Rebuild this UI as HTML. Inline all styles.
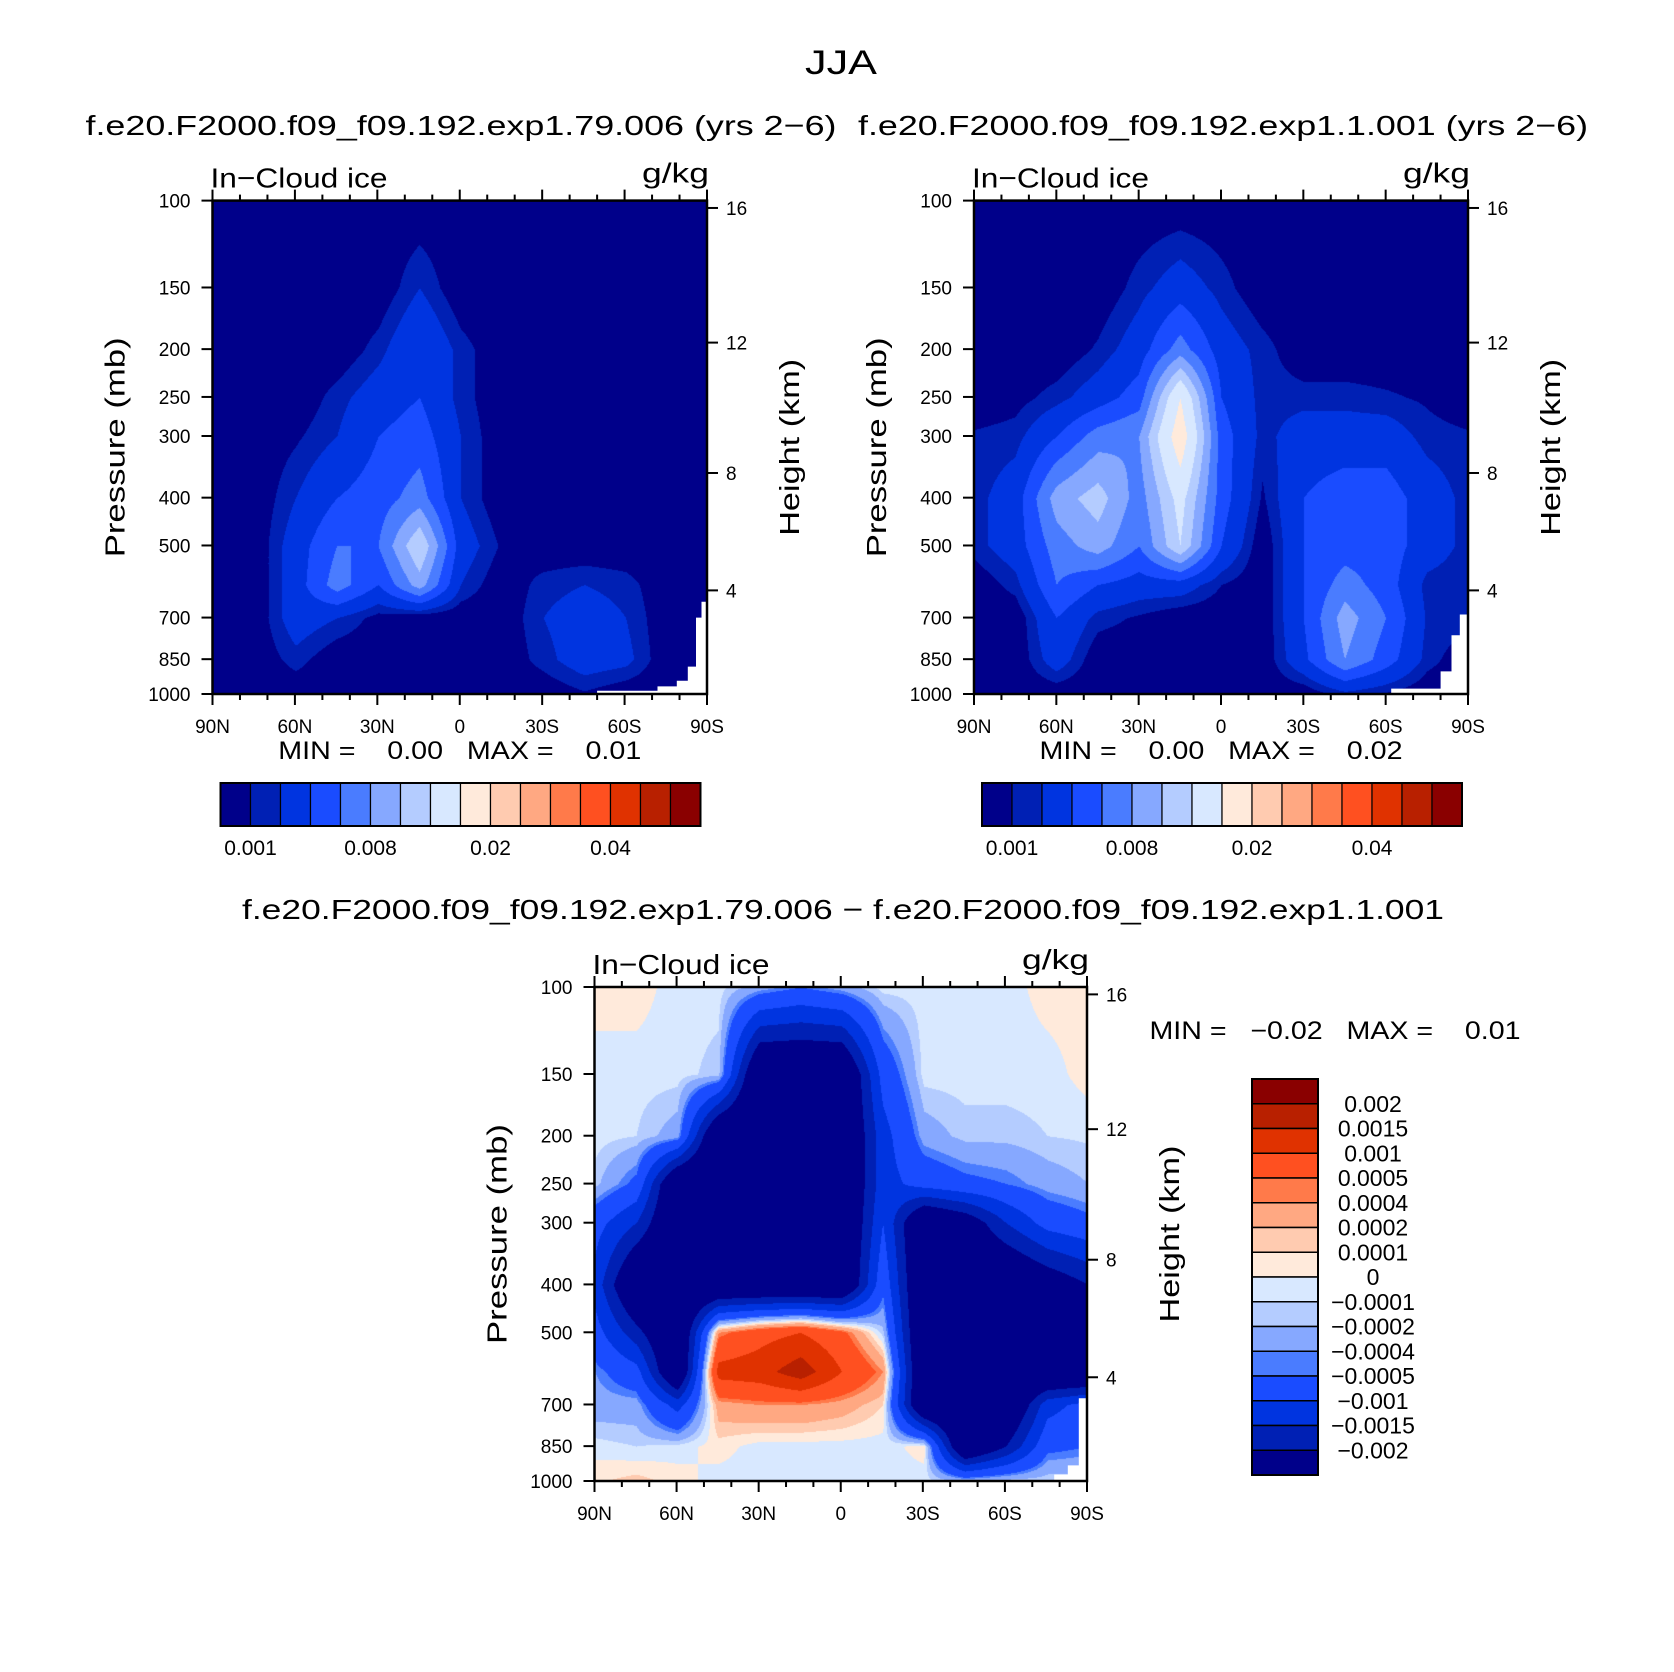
<!DOCTYPE html>
<html><head><meta charset="utf-8">
<style>
html,body{margin:0;padding:0;background:#fff;}
#wrap{position:relative;width:1674px;height:1672px;overflow:hidden;background:#fff;font-family:"Liberation Sans",sans-serif;}
canvas{position:absolute;}
svg{position:absolute;left:0;top:0;}
text{font-family:"Liberation Sans",sans-serif;fill:#000;white-space:pre;}
</style></head>
<body>
<div id="wrap">
<canvas id="c1"></canvas>
<canvas id="c2"></canvas>
<canvas id="c3"></canvas>
<svg id="s" width="1674" height="1672"></svg>
</div>
<script>
// ---------- data ----------
const lats = [90,75,60,45,30,15,0,-15,-30,-45,-60,-75,-90];
const levs = [100,150,200,250,300,400,500,600,700,850,1000];
const colors = ["#00008a","#0020b4","#0034e0","#1a4cff","#4a7cff","#86a8ff","#b4ccff","#d8e8ff","#ffeadb","#ffcbb0","#ffa882","#ff7a4a","#ff5020","#e03200","#b82000","#8a0000"];
const cnLevels = [0.001,0.002,0.004,0.006,0.008,0.01,0.012,0.015,0.02,0.025,0.03,0.035,0.04,0.045,0.05];
const diffLevels = [-0.002,-0.0015,-0.001,-0.0005,-0.0004,-0.0002,-0.0001,0,0.0001,0.0002,0.0004,0.0005,0.001,0.0015,0.002];
const cbLabels1 = ["0.001","0.008","0.02","0.04"];
const cbLabelIdx1 = [1,5,9,13];
const diffLabels = ["0.002","0.0015","0.001","0.0005","0.0004","0.0002","0.0001","0","\u22120.0001","\u22120.0002","\u22120.0004","\u22120.0005","\u22120.001","\u22120.0015","\u22120.002"];
const latLabels = ["90N","60N","30N","0","30S","60S","90S"];
const latTicks = [90,60,30,0,-30,-60,-90];
const pLabels = [100,150,200,250,300,400,500,700,850,1000];
const zLabels = [16,12,8,4];
const zPress = [103.5,194,356.5,616.6];
const field1 = [
[0,0,0,0,0,0,0,0,0,0,0,0,0],
[0,0,0,0,0,0.002,0,0,0,0,0,0,0],
[0,0,0,0,0.0015,0.004,0.0015,0,0,0,0,0,0],
[0,0,0,0.0015,0.003,0.004,0.0015,0,0,0,0,0,0],
[0,0,0.0008,0.002,0.004,0.005,0.002,0,0,0,0,0,0],
[0,0,0.002,0.004,0.005,0.007,0.002,0,0,0,0,0,0],
[0,0,0.003,0.006,0.006,0.012,0.003,0.0008,0,0,0,0,0],
[0,0,0.003,0.007,0.004,0.009,0.002,0,0.0015,0.002,0.0015,0,0],
[0,0,0.003,0.002,0.0005,0,0,0,0.002,0.003,0.002,0,0],
[0,0,0.0015,0,0,0,0,0,0.0015,0.003,0.0025,0,0],
[0,0,0,0,0,0,0,0,0,0.0008,0,0,0]];
const field2 = [
[0,0,0,0,0,0,0,0,0,0,0,0,0],
[0,0,0,0,0.0015,0.003,0.0015,0,0,0,0,0,0],
[0,0,0,0.0012,0.003,0.007,0.003,0.0015,0,0,0,0,0],
[0,0.0005,0.0015,0.003,0.005,0.015,0.004,0.0015,0.0015,0.0015,0.0012,0.0008,0],
[0.0012,0.0015,0.004,0.007,0.008,0.017,0.005,0.0015,0.003,0.003,0.003,0.0015,0.0012],
[0.0015,0.003,0.009,0.011,0.007,0.013,0.005,0.0008,0.004,0.005,0.005,0.003,0.0015],
[0.0015,0.003,0.007,0.009,0.006,0.012,0.004,0,0.004,0.005,0.005,0.003,0.0015],
[0,0.0015,0.006,0.004,0.003,0.003,0.001,0,0.004,0.007,0.005,0.0015,0.0012],
[0,0,0.004,0.0015,0.0008,0,0,0,0.004,0.009,0.006,0.0018,0.0015],
[0,0,0.003,0,0,0,0,0,0.0035,0.008,0.005,0.0015,0],
[0,0,0,0,0,0,0,0,0,0.0015,0.0008,0,0]];
const field3 = [
[0.00005,0.00005,-0.00005,-0.00005,-0.0003,-0.0005,-0.0003,-0.00005,-0.00005,-0.00005,-0.00005,0.00005,0.00005],
[-0.00005,-0.00005,-0.00005,-0.00015,-0.003,-0.003,-0.003,-0.0008,-0.00005,-0.00005,-0.00005,-0.00005,0.00005],
[-0.00005,-0.0001,-0.0003,-0.003,-0.003,-0.003,-0.003,-0.0012,-0.0003,-0.00015,-0.00015,-0.0001,-0.00008],
[-0.00015,-0.0006,-0.003,-0.003,-0.003,-0.003,-0.003,-0.0012,-0.0008,-0.0006,-0.0005,-0.0003,-0.0002],
[-0.0008,-0.0015,-0.003,-0.003,-0.003,-0.003,-0.003,-0.001,-0.003,-0.0025,-0.0015,-0.0008,-0.0006],
[-0.0012,-0.003,-0.003,-0.003,-0.003,-0.003,-0.003,-0.0006,-0.003,-0.003,-0.003,-0.0025,-0.002],
[-0.0008,-0.0018,-0.003,0.0004,0.0008,0.001,0.0006,-0.00015,-0.003,-0.003,-0.003,-0.003,-0.003],
[-0.0004,-0.0008,-0.003,0.0012,0.0013,0.0018,0.001,0.0004,-0.003,-0.003,-0.003,-0.003,-0.003],
[-0.0003,-0.0003,-0.0012,0.0003,0.0004,0.0004,0.0003,0.0001,-0.003,-0.003,-0.003,-0.0012,-0.0008],
[-0.00005,-0.0001,-0.00005,0.00005,-0.00005,-0.00005,-0.00005,-0.00005,0.00005,-0.003,-0.002,-0.0006,-0.0005],
[0.00008,0.00015,0.00005,-0.00005,-0.00005,-0.00005,-0.00005,-0.00005,-0.00005,-0.0002,-0.0001,-0.0001,-0.0001]];
const mask1Lat = [-50,-50,-72,-72,-79,-79,-83,-83,-86,-86,-88,-88,-90,-90];
const mask1P = [1000,985,985,965,965,940,940,880,880,700,700,650,650,1000];
const mask2Lat = [-62,-62,-80,-80,-84,-84,-87,-87,-90,-90];
const mask2P = [1000,975,975,900,900,760,760,690,690,1000];
const mask3Lat = [-78,-78,-83,-83,-87,-87,-90,-90];
const mask3P = [1000,970,970,930,930,680,680,1000];

// ---------- layout ----------
const panels = [
 {id:"c1",L:212.5,R:707,T:200.6,B:694,field:field1,lv:cnLevels,mlat:mask1Lat,mp:mask1P,name:"panel1"},
 {id:"c2",L:974,R:1468,T:200.6,B:694,field:field2,lv:cnLevels,mlat:mask2Lat,mp:mask2P,name:"panel2"},
 {id:"c3",L:594.5,R:1087,T:987,B:1481,field:field3,lv:diffLevels,mlat:mask3Lat,mp:mask3P,name:"diff-panel"}];
function xOf(P,lat){return P.L+(90-lat)/180*(P.R-P.L);}
function yOf(P,p){return P.B-Math.log10(1000/p)*(P.B-P.T);}
function hex(c){return [parseInt(c.substr(1,2),16),parseInt(c.substr(3,2),16),parseInt(c.substr(5,2),16)];}
const rgb = colors.map(hex);
function sample(F,lat,lp){
  let fi=(90-lat)/15; let i0=Math.min(11,Math.floor(fi)); let tx=fi-i0;
  let j0=levs.length-2; for(let j=0;j<levs.length-1;j++){ if(lp<=Math.log(levs[j+1])){j0=j;break;} }
  let a=Math.log(levs[j0]),b=Math.log(levs[j0+1]); let ty=Math.max(0,Math.min(1,(lp-a)/(b-a)));
  return (F[j0][i0]*(1-tx)+F[j0][i0+1]*tx)*(1-ty)+(F[j0+1][i0]*(1-tx)+F[j0+1][i0+1]*tx)*ty;
}
panels.forEach(P=>{
  const cv=document.getElementById(P.id);
  const W=Math.round(P.R-P.L),H=Math.round(P.B-P.T);
  cv.width=W;cv.height=H;cv.style.left=P.L+"px";cv.style.top=P.T+"px";
  const ctx=cv.getContext("2d");const im=ctx.createImageData(W,H);
  for(let y=0;y<H;y++){
    const lp=Math.log(1000/Math.pow(10,(H-y)/H));
    for(let x=0;x<W;x++){
      const lat=90-x/W*180; const v=sample(P.field,lat,lp);
      let k=0; while(k<P.lv.length&&v>=P.lv[k])k++;
      const c=rgb[k];const o=(y*W+x)*4;
      im.data[o]=c[0];im.data[o+1]=c[1];im.data[o+2]=c[2];im.data[o+3]=255;
    }}
  ctx.putImageData(im,0,0);
});

// ---------- svg ----------
const NS="http://www.w3.org/2000/svg";const svg=document.getElementById("s");
function el(tag,attrs,txt){const e=document.createElementNS(NS,tag);for(const k in attrs)e.setAttribute(k,attrs[k]);if(txt!==undefined)e.textContent=txt;svg.appendChild(e);return e;}
function T(x,y,s,size,anchor,name,rot,len){const a={x:x,y:y,"font-size":size,"text-anchor":anchor||"middle"};if(rot)a.transform="rotate(-90 "+x+" "+y+")";if(len){a.textLength=len;a.lengthAdjust="spacingAndGlyphs";}const e=el("text",a,s);return e;}

T(841,74,"JJA",34,"middle","main-title",false,72);
T(461,135,"f.e20.F2000.f09_f09.192.exp1.79.006 (yrs 2\u22126)",28,"middle","panel1-title",false,751);
T(1223,135,"f.e20.F2000.f09_f09.192.exp1.1.001 (yrs 2\u22126)",28,"middle","panel2-title",false,730);
T(843,919,"f.e20.F2000.f09_f09.192.exp1.79.006 \u2212 f.e20.F2000.f09_f09.192.exp1.1.001",28,"middle","diff-title",false,1202);

panels.forEach((P,pi)=>{
  let pts=P.mlat.map((la,i)=>xOf(P,la).toFixed(1)+","+yOf(P,P.mp[i]).toFixed(1)).join(" ");
  const m=el("polygon",{points:pts,fill:"#fff"});
  
  
  const fr=el("rect",{x:P.L,y:P.T,width:P.R-P.L,height:P.B-P.T,fill:"none",stroke:"#000","stroke-width":2.5});
  
  
  for(let lat=90;lat>=-90;lat-=10){
    const x=xOf(P,lat);const major=lat%30===0;const len=major?11:6;
    el("line",{x1:x,y1:P.B,x2:x,y2:P.B+len,stroke:"#000","stroke-width":2});
    el("line",{x1:x,y1:P.T,x2:x,y2:P.T-len,stroke:"#000","stroke-width":2});
  }
  latTicks.forEach((lat,i)=>T(xOf(P,lat),P.B+39,latLabels[i],19,"middle",P.name+"-x-label"));
  pLabels.forEach(p=>{const y=yOf(P,p);el("line",{x1:P.L-11,y1:y,x2:P.L,y2:y,stroke:"#000","stroke-width":2});
    T(P.L-22,y+7,String(p),19,"end",P.name+"-y-label");});
  zLabels.forEach((z,i)=>{const y=yOf(P,zPress[i]);el("line",{x1:P.R,y1:y,x2:P.R+11,y2:y,stroke:"#000","stroke-width":2});
    T(P.R+19,y+7,String(z),19,"start",P.name+"-height-label");});
  T(P.L-88,(P.T+P.B)/2,"Pressure (mb)",28,"middle",P.name+"-y-title",true,220);
  T(P.R+92,(P.T+P.B)/2,"Height (km)",28,"middle",P.name+"-height-title",true,177);
  T(P.L-2,P.T-13,"In\u2212Cloud ice",28,"start",P.name+"-variable",false,177);
  T(P.R+2,P.T-18,"g/kg",28,"end",P.name+"-units",false,67);
  if(pi<2){
    T((P.L+P.R)/2,P.B+65,"MIN =    0.00   MAX =    "+(pi===0?"0.01":"0.02"),25,"middle",P.name+"-minmax",false,363);
    const cx=P.L+8,cw=480,cy=783,ch=43,bw=cw/16;
    colors.forEach((c,k)=>{const r=el("rect",{x:cx+k*bw,y:cy,width:bw,height:ch,fill:c,stroke:"#000","stroke-width":1.2});
      
      });
    el("rect",{x:cx,y:cy,width:cw,height:ch,fill:"none",stroke:"#000","stroke-width":2});
    cbLabels1.forEach((s,i)=>T(cx+cbLabelIdx1[i]*bw,cy+72,s,21,"middle",P.name+"-colorbar-label"));
  }
});
T(1335,1039,"MIN =   \u22120.02   MAX =    0.01",25,"middle","diff-minmax",false,371);
const bx=1252,by=1079,bwid=66,bh=396/16;
colors.slice().reverse().forEach((c,k)=>{const r=el("rect",{x:bx,y:by+k*bh,width:bwid,height:bh,fill:c,stroke:"#000","stroke-width":1.5});
  
  });
el("rect",{x:bx,y:by,width:bwid,height:396,fill:"none",stroke:"#000","stroke-width":2});
diffLabels.forEach((s,i)=>T(1373,by+(i+1)*bh+8,s,23,"middle","diff-colorbar-label"));
</script>
</body></html>
